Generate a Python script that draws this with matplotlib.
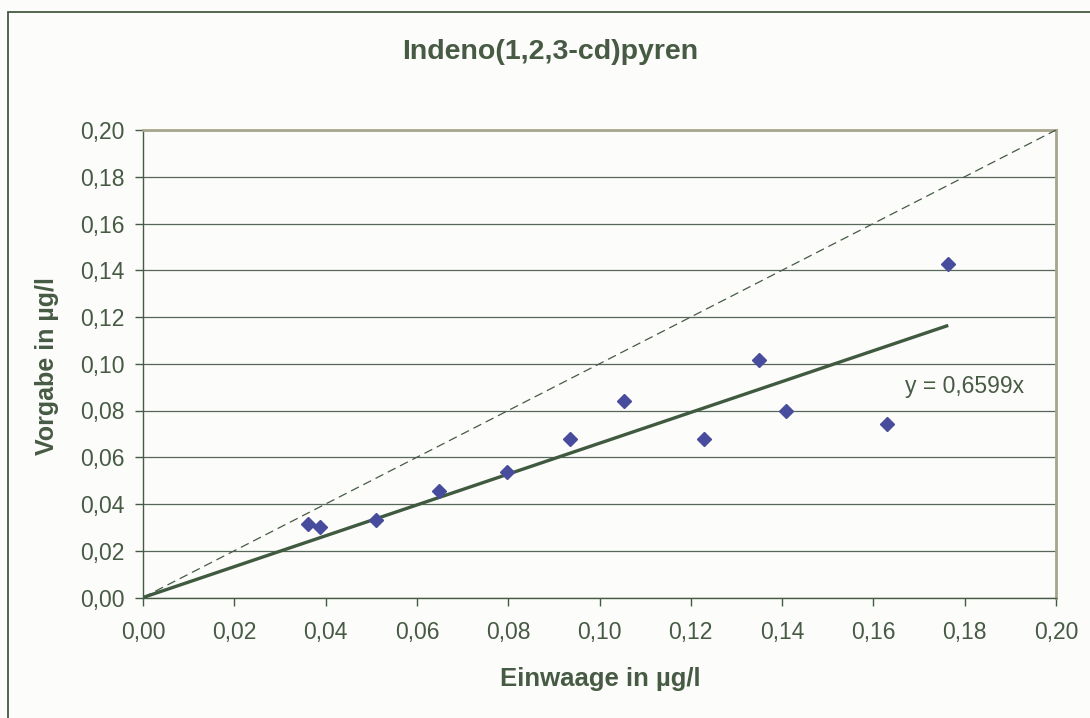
import numpy as np
import matplotlib
matplotlib.use("Agg")
import matplotlib.pyplot as plt
from matplotlib.ticker import FuncFormatter, MultipleLocator
from matplotlib.patches import Rectangle

plt.rcParams["font.family"] = ["Liberation Sans", "DejaVu Sans"]

# Measured points (Einwaage vs Vorgabe, µg/l)
einwaage = [0.0362, 0.0388, 0.0510, 0.0649, 0.0798, 0.0936, 0.1054, 0.1228, 0.1350, 0.1409, 0.1630, 0.1764]
vorgabe = [0.0315, 0.0301, 0.0332, 0.0456, 0.0539, 0.0678, 0.0839, 0.0678, 0.1017, 0.0800, 0.0742, 0.1427]

slope = 0.6599
diag = [0.0, 0.20]

title = "Indeno(1,2,3-cd)pyren"
xlabel = "Einwaage in µg/l"
ylabel = "Vorgabe in µg/l"

txt = "#465a44"
grid_col = "#56665a"
khaki = "#a8a58c"
bg = "#fcfcfa"

fig = plt.figure(figsize=(10.9, 7.18), dpi=100, facecolor=bg)
W, H = 1090, 718

# outer chart border
fig.patches.append(Rectangle((8 / W, -0.1), 1.2, 1 - 12 / H + 0.1, transform=fig.transFigure,
                             fill=False, edgecolor=txt, linewidth=1.3))

ax = fig.add_axes([143 / W, 1 - 597.5 / H, 913 / W, 467.5 / H], facecolor=bg)

# 1:1 reference line
ax.plot(diag, diag, color=txt, lw=0.9, linestyle=(0, (7, 4)), zorder=3)

# linear trend through origin
xmax = max(einwaage)
ax.plot([0, xmax], [0, slope * xmax], color="#3f5a3f", lw=2.4, zorder=4,
        solid_capstyle="butt")

ax.plot(einwaage, vorgabe, linestyle="none", marker="D", ms=7,
        color="#484c9c", zorder=5)

ax.text(0.1669, 0.0903, "y = 0,6599x", fontsize=16.5, color=txt,
        ha="left", va="center", zorder=6)

ax.set_xlim(0, 0.20)
ax.set_ylim(0, 0.20)
ax.xaxis.set_major_locator(MultipleLocator(0.02))
ax.yaxis.set_major_locator(MultipleLocator(0.02))
fmt = FuncFormatter(lambda v, p: f"{v:.2f}".replace(".", ","))
ax.xaxis.set_major_formatter(fmt)
ax.yaxis.set_major_formatter(fmt)

ax.grid(axis="y", color=grid_col, lw=0.9, zorder=1)
ax.set_axisbelow(True)

ax.tick_params(axis="both", direction="out", length=6, width=1.0, color=txt,
               labelcolor=txt, labelsize=16.5)
ax.tick_params(axis="y", pad=7)
ax.tick_params(axis="x", pad=11)

ax.spines["left"].set_color(txt)
ax.spines["bottom"].set_color(txt)
ax.spines["left"].set_linewidth(1.0)
ax.spines["bottom"].set_linewidth(1.0)
ax.spines["top"].set_color(khaki)
ax.spines["right"].set_color(khaki)
ax.spines["top"].set_linewidth(2.0)
ax.spines["right"].set_linewidth(2.0)

fig.text(550.5 / W, 1 - 52 / H, title, fontsize=20.5, fontweight="bold", color=txt,
         ha="center", va="center")
fig.text(600.5 / W, 1 - 679 / H, xlabel, fontsize=18.5, fontweight="bold", color=txt,
         ha="center", va="center")
fig.text(47 / W, 1 - 366 / H, ylabel, fontsize=18, fontweight="bold", color=txt,
         ha="center", va="center", rotation=90)

fig.savefig("out.png", dpi=100, facecolor=bg)
